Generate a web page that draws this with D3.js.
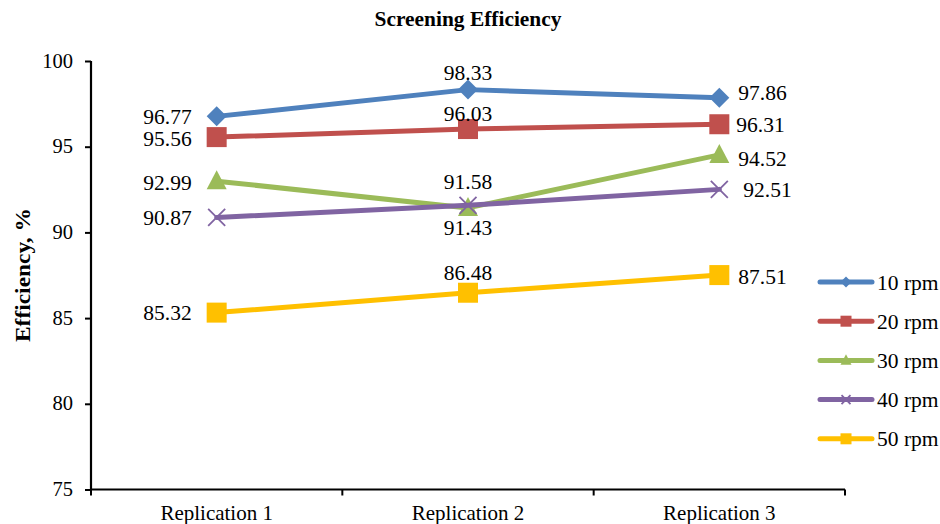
<!DOCTYPE html>
<html><head><meta charset="utf-8">
<script src="https://cdn.jsdelivr.net/npm/d3@7"></script>
<style>body{margin:0;background:#fff}svg{display:block}text{font-family:'Liberation Serif','Times New Roman',serif}</style>
</head><body><svg id="c" width="940" height="524"></svg>
<script>
const categories = ["Replication 1", "Replication 2", "Replication 3"];
const seriesNames = ["10 rpm", "20 rpm", "30 rpm", "40 rpm", "50 rpm"];
const v10 = [96.77, 98.33, 97.86];
const v20 = [95.56, 96.03, 96.31];
const v30 = [92.99, 91.43, 94.52];
const v40 = [90.87, 91.58, 92.51];
const v50 = [85.32, 86.48, 87.51];
const yTicks = [75, 80, 85, 90, 95, 100];
const colors = ["#4F81BD", "#C0504D", "#9BBB59", "#8064A2", "#FFC000"];
const markers = ["diamond", "square", "triangle", "cross", "square"];
// label placement per series per point: [dx, dy(center offset), anchor]
const labelPos = [
  [[-25, 0, "end"], [0, -17, "middle"], [19, -5, "start"]],
  [[-25, 1.5, "end"], [0, -16, "middle"], [17, 0, "start"]],
  [[-25, 1, "end"], [0, 20, "middle"], [19, 4, "start"]],
  [[-25, 0, "end"], [0, -23.5, "middle"], [24, 0, "start"]],
  [[-25, 0, "end"], [0, -20, "middle"], [19, 1, "start"]]
];
const allSeries = [v10, v20, v30, v40, v50];

const svg = d3.select("#c");
const font = "'Liberation Serif','Times New Roman',serif";
const x = d3.scaleBand().domain(categories).range([91, 845]);
const y = d3.scaleLinear().domain([75, 100]).range([489.5, 61]);

svg.append("text").attr("x", 468).attr("y", 26).attr("text-anchor", "middle")
  .attr("font-family", font).attr("font-weight", "bold").attr("font-size", 21)
  .attr("textLength", 187).attr("lengthAdjust", "spacingAndGlyphs")
  .text("Screening Efficiency");

const ya = svg.append("g").attr("transform", "translate(91,0)")
  .call(d3.axisLeft(y).tickValues(yTicks).tickSize(6).tickPadding(12).tickFormat(d3.format("d")));
ya.attr("font-family", font);
ya.select(".domain").attr("stroke", "#000").attr("stroke-width", 2.2).attr("d", "M0,61V489.5");
ya.selectAll(".tick line").attr("stroke", "#000").attr("stroke-width", 2);
ya.selectAll(".tick text").attr("font-family", font).attr("font-size", 20.5).attr("fill", "#000").attr("dy", "0.3em");

const xa = svg.append("g").attr("transform", "translate(0,489.5)")
  .call(d3.axisBottom(x).tickSize(0).tickPadding(0));
xa.attr("font-family", font);
xa.select(".domain").attr("stroke", "#000").attr("stroke-width", 2.2).attr("d", "M91,0H845");
xa.selectAll(".tick text").attr("font-family", font).attr("font-size", 21).attr("fill", "#000")
  .attr("y", 30).attr("dy", 0);
const bounds = [0, 1, 2, 3].map(i => 91 + i * x.step());
xa.selectAll(".bt").data(bounds).enter().append("line")
  .attr("x1", d => d).attr("x2", d => d).attr("y1", 0).attr("y2", 6)
  .attr("stroke", "#000").attr("stroke-width", 2);

svg.append("text").attr("transform", "translate(30,275) rotate(-90)")
  .attr("text-anchor", "middle").attr("font-family", font).attr("font-weight", "bold")
  .attr("font-size", 22).attr("textLength", 134).attr("lengthAdjust", "spacingAndGlyphs")
  .text("Efficiency, %");

function drawMarker(g, type, cx, cy, color, s) {
  if (type === "diamond") {
    g.append("path").attr("d", `M${cx},${cy - s}L${cx + s},${cy}L${cx},${cy + s}L${cx - s},${cy}Z`).attr("fill", color);
  } else if (type === "square") {
    g.append("rect").attr("x", cx - s).attr("y", cy - s).attr("width", 2 * s).attr("height", 2 * s).attr("fill", color);
  } else if (type === "triangle") {
    g.append("path").attr("d", `M${cx},${cy - s * 1.1}L${cx + s},${cy + s * 0.8}L${cx - s},${cy + s * 0.8}Z`).attr("fill", color);
  } else if (type === "cross") {
    g.append("path").attr("d", `M${cx - s},${cy - s}L${cx + s},${cy + s}M${cx - s},${cy + s}L${cx + s},${cy - s}`)
      .attr("stroke", color).attr("stroke-width", 1.8).attr("fill", "none");
  }
}
const msize = [10, 10, 10, 8.5, 10];
const line = d3.line().x((d, i) => x(categories[i]) + x.bandwidth() / 2).y(d => y(d));

allSeries.forEach((vals, si) => {
  const g = svg.append("g");
  g.append("path").attr("d", line(vals)).attr("fill", "none").attr("stroke", colors[si])
    .attr("stroke-width", 5).attr("stroke-linejoin", "round").attr("stroke-linecap", "round");
  vals.forEach((v, i) => {
    const cx = x(categories[i]) + x.bandwidth() / 2, cy = y(v);
    drawMarker(g, markers[si], cx, cy, colors[si], msize[si]);
  });
});
allSeries.forEach((vals, si) => {
  vals.forEach((v, i) => {
    const cx = x(categories[i]) + x.bandwidth() / 2, cy = y(v);
    const p = labelPos[si][i];
    svg.append("text").attr("x", cx + p[0]).attr("y", cy + p[1] + 7.5).attr("text-anchor", p[2])
      .attr("font-family", font).attr("font-size", 21.5).attr("fill", "#000").text(v.toFixed(2));
  });
});

// legend
seriesNames.forEach((n, i) => {
  const ly = 282 + i * 39.2;
  const g = svg.append("g");
  g.append("line").attr("x1", 820).attr("x2", 872).attr("y1", ly).attr("y2", ly)
    .attr("stroke", colors[i]).attr("stroke-width", 5).attr("stroke-linecap", "round");
  drawMarker(g, markers[i], 846, ly, colors[i], markers[i] === "cross" ? 4.5 : 5.5);
  g.append("text").attr("x", 877).attr("y", ly + 7.5).attr("font-family", font).attr("font-size", 21.5).text(n);
});
</script></body></html>
